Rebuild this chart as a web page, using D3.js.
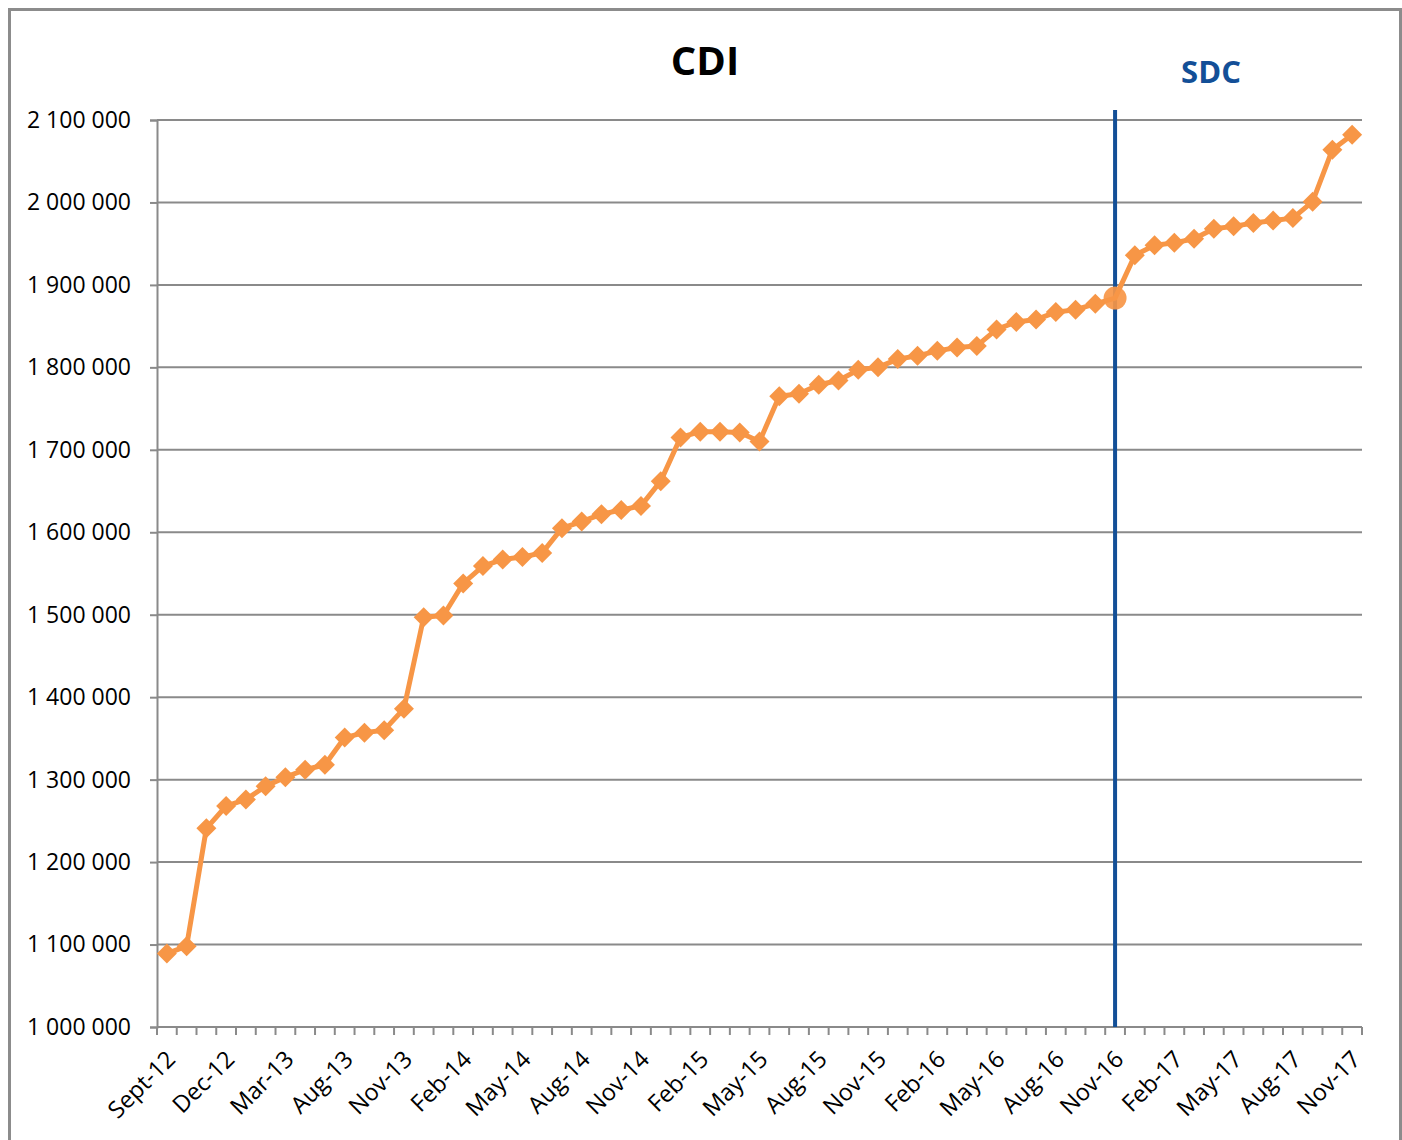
<!DOCTYPE html>
<html>
<head>
<meta charset="utf-8">
<script src="https://cdn.jsdelivr.net/npm/d3@7"></script>
<style>
  html, body { margin: 0; padding: 0; background: #fff; }
  svg { display: block; font-family: "Open Sans", "DejaVu Sans", sans-serif; }
</style>
</head>
<body>
<div id="chart"></div>
<script>
// categories (61 points, label shown every 3rd)
const months = [
  "Sept-12", "Oct-12", "Nov-12", "Dec-12", "Jan-13", "Feb-13", "Mar-13", "May-13", "Jun-13",
  "Aug-13", "Sept-13", "Oct-13", "Nov-13", "Dec-13", "Jan-14", "Feb-14", "Mar-14", "Apr-14",
  "May-14", "Jun-14", "Jul-14", "Aug-14", "Sept-14", "Oct-14", "Nov-14", "Dec-14", "Jan-15",
  "Feb-15", "Mar-15", "Apr-15", "May-15", "Jun-15", "Jul-15", "Aug-15", "Sept-15", "Oct-15",
  "Nov-15", "Dec-15", "Jan-16", "Feb-16", "Mar-16", "Apr-16", "May-16", "Jun-16", "Jul-16",
  "Aug-16", "Sept-16", "Oct-16", "Nov-16", "Dec-16", "Jan-17", "Feb-17", "Mar-17", "Apr-17",
  "May-17", "Jun-17", "Jul-17", "Aug-17", "Sept-17", "Oct-17", "Nov-17"
];

const cdiValues = [
  1089000, 1098000, 1241000, 1268000, 1276000, 1292000, 1303000, 1312000, 1318000,
  1351000, 1357000, 1360000, 1386000, 1497000, 1499000, 1538000, 1559000, 1567000,
  1570000, 1575000, 1605000, 1613000, 1622000, 1627000, 1632000, 1662000, 1715000,
  1722000, 1722000, 1721000, 1710000, 1765000, 1768000, 1779000, 1784000, 1797000,
  1800000, 1810000, 1814000, 1820000, 1824000, 1826000, 1846000, 1855000, 1858000,
  1867000, 1870000, 1877000, 1884000, 1936000, 1948000, 1951000, 1956000, 1968000,
  1971000, 1975000, 1978000, 1981000, 2001000, 2064000, 2082000
];

const yTicks = [1000000, 1100000, 1200000, 1300000, 1400000, 1500000, 1600000,
  1700000, 1800000, 1900000, 2000000, 2100000];

const chartTitle = "CDI";
const markerLabel = "SDC";
const markerMonth = "Nov-16";

const W = 1402, H = 1140;
const margin = {top: 120, right: 40, bottom: 113, left: 157};
const orange = "#F79646";
const axisGray = "#8a8a8a";

const svg = d3.select("#chart").append("svg")
  .attr("width", W)
  .attr("height", H);

// outer chart frame
svg.append("path")
  .attr("d", `M9.5,${H} V9.5 H1400.5 V${H}`)
  .attr("fill", "none")
  .attr("stroke", "#8c8c8c")
  .attr("stroke-width", 3);

const x = d3.scaleBand()
  .domain(months)
  .range([margin.left, W - margin.right])
  .padding(0);

const y = d3.scaleLinear()
  .domain([1000000, 2100000])
  .range([H - margin.bottom, margin.top]);

const cx = d => x(d) + x.bandwidth() / 2;
const fmt = d3.formatLocale({decimal: ",", thousands: " ", grouping: [3], currency: ["", ""]}).format(",d");

// horizontal gridlines
svg.append("g")
  .selectAll("line")
  .data(yTicks.slice(1))
  .join("line")
  .attr("x1", margin.left)
  .attr("x2", W - margin.right)
  .attr("y1", d => y(d))
  .attr("y2", d => y(d))
  .attr("stroke", axisGray)
  .attr("stroke-width", 2);

// y axis
const yAxis = svg.append("g")
  .attr("transform", `translate(${margin.left},0)`)
  .call(d3.axisLeft(y).tickValues(yTicks).tickFormat(fmt).tickSize(7).tickPadding(19));
yAxis.select(".domain").attr("stroke", axisGray).attr("stroke-width", 2);
yAxis.selectAll(".tick line").attr("stroke", axisGray).attr("stroke-width", 2);
yAxis.selectAll(".tick text")
  .attr("fill", "#000")
  .style("font-size", "23px")
  .style("font-family", "'Open Sans', sans-serif");

// x axis: ticks on category boundaries
const xAxisG = svg.append("g")
  .attr("transform", `translate(0,${y(1000000)})`);
xAxisG.append("line")
  .attr("x1", margin.left)
  .attr("x2", W - margin.right)
  .attr("stroke", axisGray)
  .attr("stroke-width", 2);
const boundaries = months.map(m => x(m)).concat([x(months[months.length - 1]) + x.bandwidth()]);
xAxisG.selectAll("line.tick")
  .data(boundaries)
  .join("line")
  .attr("class", "tick")
  .attr("x1", d => d)
  .attr("x2", d => d)
  .attr("y1", 0)
  .attr("y2", 8)
  .attr("stroke", axisGray)
  .attr("stroke-width", 2);
xAxisG.selectAll("text")
  .data(months.filter((m, i) => i % 3 === 0))
  .join("text")
  .attr("transform", d => `translate(${cx(d) + 4},28) rotate(-45)`)
  .attr("text-anchor", "end")
  .attr("dy", "0.35em")
  .style("font-size", "23.5px")
  .text(d => d);

// vertical marker line
svg.append("line")
  .attr("x1", cx(markerMonth))
  .attr("x2", cx(markerMonth))
  .attr("y1", y(2100000) - 10)
  .attr("y2", y(1000000))
  .attr("stroke", "#134f97")
  .attr("stroke-width", 4);

// series line
const line = d3.line()
  .x((d, i) => cx(months[i]))
  .y(d => y(d));

svg.append("path")
  .datum(cdiValues)
  .attr("d", line)
  .attr("fill", "none")
  .attr("stroke", orange)
  .attr("stroke-width", 5)
  .attr("stroke-linejoin", "round");

// diamond markers
const diamond = d3.symbol().type(d3.symbolSquare).size(200);
svg.append("g")
  .selectAll("path")
  .data(cdiValues.map((v, i) => ({m: months[i], v})).filter(d => d.m !== markerMonth))
  .join("path")
  .attr("d", diamond)
  .attr("transform", d => `translate(${cx(d.m)},${y(d.v)}) rotate(45)`)
  .attr("fill", orange);

// highlighted point
svg.append("circle")
  .attr("cx", cx(markerMonth))
  .attr("cy", y(cdiValues[months.indexOf(markerMonth)]))
  .attr("r", 11.5)
  .attr("fill", orange)
  .attr("fill-opacity", 0.92);

// titles
svg.append("text")
  .attr("x", 705)
  .attr("y", 75)
  .attr("text-anchor", "middle")
  .style("font-size", "40px")
  .style("font-weight", "bold")
  .text(chartTitle);

svg.append("text")
  .attr("x", 1211)
  .attr("y", 83)
  .attr("text-anchor", "middle")
  .attr("fill", "#134f97")
  .style("font-size", "31px")
  .style("font-weight", "bold")
  .text(markerLabel);
</script>
</body>
</html>
